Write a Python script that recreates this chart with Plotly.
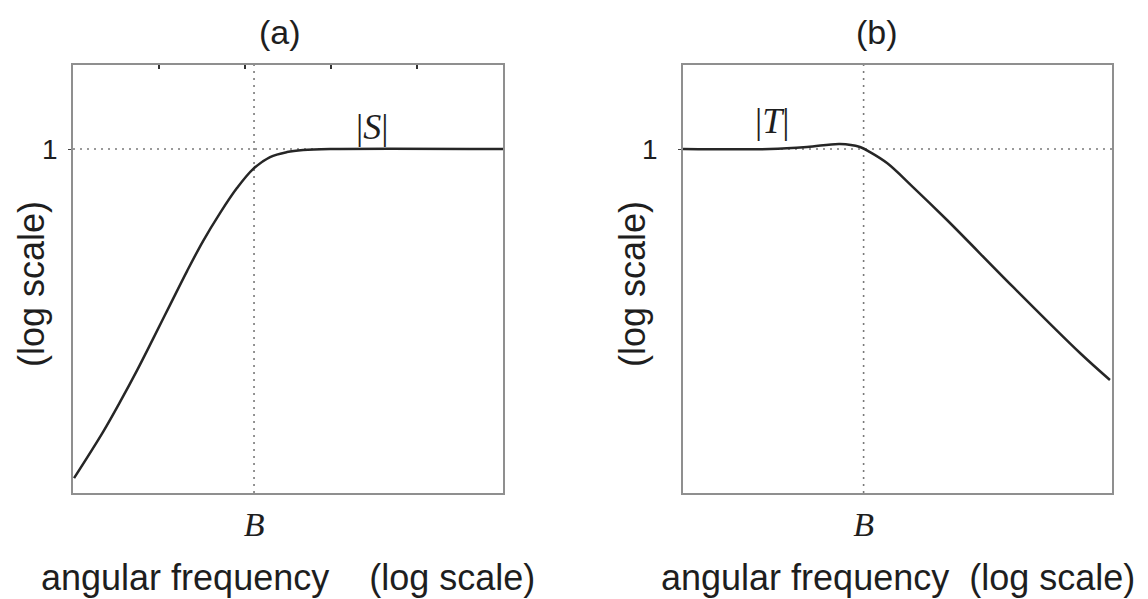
import numpy as np
import plotly.graph_objects as go

# ---- data (B = 1) ----
B = 1.0
S_freq = [0.0555, 0.0883, 0.116, 0.153, 0.197, 0.259, 0.341, 0.441, 0.579, 0.760, 0.984,
          1.294, 1.70, 2.20, 3.39, 54.6]
S_mag = [0.00769, 0.01518, 0.02366, 0.0380, 0.0601, 0.0994, 0.1644, 0.2563, 0.3879, 0.5615,
         0.7438, 0.888, 0.956, 0.985, 1.0, 1.0]

T_freq = [0.0546, 0.221, 0.402, 0.684, 0.944, 1.109, 1.458, 2.214, 3.83, 11.09, 32.6, 52.8]
T_mag = [1.0, 1.0, 1.030, 1.077, 1.030, 0.956, 0.813, 0.570, 0.350, 0.130, 0.0489, 0.0328]

x_log_range = [-1.263, 1.737]
y_log_range = [-2.21, 0.54]
titles = ["(a)", "(b)"]
curve_labels = ["|<i>S</i>|", "|<i>T</i>|"]
label_pos = [(6.67, 1.38), (0.229, 1.51)]
x_title = ["angular frequency    (log scale)", "angular frequency  (log scale)"]

W, H = 1148, 599
xdom = [[73 / W, 503 / W], [683 / W, 1112 / W]]
ydom = [1 - 493 / H, 1 - 65 / H]

SANS = "Liberation Sans, Arial, sans-serif"
SERIF = "Liberation Serif, Times New Roman, serif"
box_col = "#8f8f8f"
dot_col = "#7a7a7a"
curve_col = "#262626"
txt_col = "#1e1e1e"

xmin, xmax = 10 ** x_log_range[0], 10 ** x_log_range[1]
ymin, ymax = 10 ** y_log_range[0], 10 ** y_log_range[1]

fig = go.Figure()

for i, (xf, ym) in enumerate([(S_freq, S_mag), (T_freq, T_mag)]):
    xa = "x" if i == 0 else "x2"
    ya = "y" if i == 0 else "y2"
    # dotted reference lines
    fig.add_trace(go.Scatter(x=[B, B], y=[ymin, ymax], mode="lines", xaxis=xa, yaxis=ya,
                             line=dict(color=dot_col, width=1.6, dash="2px,5px"),
                             hoverinfo="skip", showlegend=False))
    fig.add_trace(go.Scatter(x=[xmin, xmax], y=[1, 1], mode="lines", xaxis=xa, yaxis=ya,
                             line=dict(color=dot_col, width=1.6, dash="2px,5px"),
                             hoverinfo="skip", showlegend=False))
    fig.add_trace(go.Scatter(x=xf, y=ym, mode="lines", xaxis=xa, yaxis=ya,
                             line=dict(color=curve_col, width=2.5, shape="spline", smoothing=1.0),
                             showlegend=False))

# invisible trace for the top tick axis of panel (a)
fig.add_trace(go.Scatter(x=[0, 1], y=[0, 0], xaxis="x3", yaxis="y", mode="markers",
                         marker=dict(opacity=0), hoverinfo="skip", showlegend=False))

xcommon = dict(type="log", range=x_log_range, showgrid=False, zeroline=False, automargin=False,
               showline=True, mirror=True, linecolor=box_col, linewidth=1.5,
               tickvals=[B], ticktext=["<i>B</i>"], ticks="",
               tickfont=dict(family=SERIF, size=34, color=txt_col),
               ticklabelstandoff=0)
ycommon = dict(type="log", range=y_log_range, showgrid=False, zeroline=False, automargin=False,
               showline=True, mirror=True, linecolor=box_col, linewidth=1.5,
               tickvals=[1], ticktext=["1"], ticks="outside", ticklen=3, tickcolor="#444",
               tickfont=dict(family=SANS, size=28, color=txt_col), domain=ydom)

fig.update_layout(
    width=W, height=H,
    margin=dict(l=0, r=0, t=0, b=0, autoexpand=False),
    paper_bgcolor="white", plot_bgcolor="white",
    xaxis=dict(xcommon, domain=xdom[0], anchor="y"),
    xaxis2=dict(xcommon, domain=xdom[1], anchor="y2"),
    yaxis=dict(ycommon, anchor="x", ticklabelstandoff=5),
    yaxis2=dict(ycommon, anchor="x2", ticklabelstandoff=15),
    xaxis3=dict(overlaying="x", side="top", anchor="y", range=[0, 1], showgrid=False,
                automargin=False, zeroline=False, showline=False, ticks="inside", ticklen=4,
                tickwidth=2, tickcolor="#333", tickvals=[0.2, 0.4, 0.6, 0.8, 1.0],
                showticklabels=False),
)

annotations = []
centers = [(xdom[0][0] + xdom[0][1]) / 2, (xdom[1][0] + xdom[1][1]) / 2]
title_x = [280 / W, 877 / W]
ylab_x = [31 / W, 632 / W]
for i in range(2):
    xa = "x" if i == 0 else "x2"
    ya = "y" if i == 0 else "y2"
    annotations.append(dict(text=titles[i], xref="paper", yref="paper", x=title_x[i],
                            y=1 - 32 / H, showarrow=False, xanchor="center", yanchor="middle",
                            font=dict(family=SANS, size=34, color=txt_col)))
    annotations.append(dict(text=x_title[i], xref="paper", yref="paper", x=centers[i],
                            y=1 - 577 / H, showarrow=False, xanchor="center", yanchor="middle",
                            font=dict(family=SANS, size=36, color=txt_col)))
    annotations.append(dict(text="(log scale)", xref="paper", yref="paper", x=ylab_x[i],
                            y=1 - 284 / H, showarrow=False, textangle=-90,
                            xanchor="center", yanchor="middle",
                            font=dict(family=SANS, size=36, color=txt_col)))
    lx, ly = label_pos[i]
    annotations.append(dict(text=curve_labels[i], xref=xa, yref=ya, x=np.log10(lx),
                            y=np.log10(ly), showarrow=False, xanchor="center",
                            yanchor="middle", font=dict(family=SERIF, size=36, color=txt_col)))
fig.update_layout(annotations=annotations)

fig.write_html("out.html", config={"displayModeBar": False},
               post_script="document.body.style.margin='0';document.body.style.overflow='hidden';")
